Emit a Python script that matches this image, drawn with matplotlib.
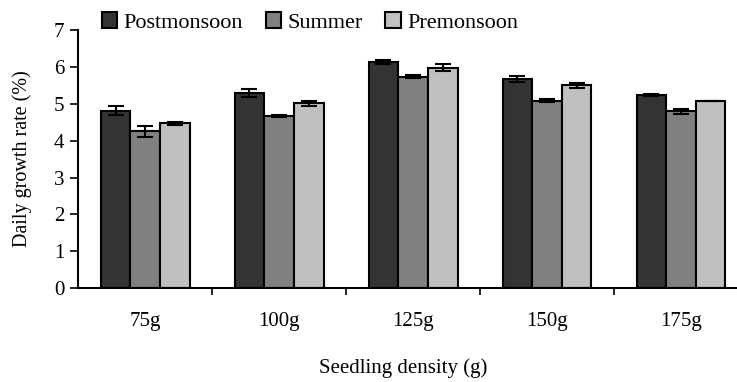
import numpy as np
import matplotlib
matplotlib.use('Agg')
import matplotlib.pyplot as plt

plt.rcParams['font.family'] = ['Liberation Serif', 'DejaVu Serif']

# data
densities = ['75g', '100g', '125g', '150g', '175g']
seasons = ['Postmonsoon', 'Summer', 'Premonsoon']
postmonsoon = [4.81, 5.29, 6.14, 5.67, 5.24]
summer = [4.25, 4.67, 5.74, 5.08, 4.80]
premonsoon = [4.47, 5.02, 5.98, 5.50, 5.07]
err_post = [0.12, 0.10, 0.06, 0.08, 0.04]
err_sum = [0.15, 0.04, 0.05, 0.04, 0.07]
err_pre = [0.05, 0.07, 0.10, 0.06, 0.0]

colors = ['#333333', '#808080', '#c0c0c0']

fig = plt.figure(figsize=(7.37, 3.82), dpi=100)
ax = fig.add_axes([0.106, 0.246, 0.909, 0.675])

x = np.arange(len(densities))
w = 0.221
series = [postmonsoon, summer, premonsoon]
errs = [err_post, err_sum, err_pre]
for i, (vals, e) in enumerate(zip(series, errs)):
    ax.bar(x + (i - 1) * w, vals, w, color=colors[i], edgecolor='black',
           linewidth=1.5, label=seasons[i], zorder=2)
    ax.errorbar(x + (i - 1) * w, vals, yerr=e, fmt='none', ecolor='black',
                elinewidth=1.5, capsize=6, capthick=1.5, zorder=3)

ax.set_xlim(-0.5, 4.5)
ax.set_ylim(0, 7)
ax.set_yticks(range(8))
ax.set_xticks(x)
ax.set_xticklabels(densities)
ax.set_xticks(np.arange(0.5, 4.5, 1), minor=True)
ax.tick_params(axis='x', which='major', length=0, pad=17, labelsize=15)
ax.tick_params(axis='x', which='minor', length=5, width=1.2, direction='out')
ax.tick_params(axis='y', length=6, width=1.2, labelsize=15, pad=4)
for s in ['top', 'right']:
    ax.spines[s].set_visible(False)
for s in ['left', 'bottom']:
    ax.spines[s].set_linewidth(1.5)

ax.set_xlabel('Seedling density (g)', fontsize=15)
ax.xaxis.set_label_coords(0.485, -0.312)
ax.xaxis.label.set_va('center')
ax.set_ylabel('Daily growth rate (%)', fontsize=14.5)
ax.yaxis.set_label_coords(-0.083, 0.5)
ax.yaxis.label.set_va('center')

ax.legend(loc='lower left', bbox_to_anchor=(0.035, 0.99), ncol=3, frameon=False,
          fontsize=16, handlelength=0.7, handleheight=0.75, handletextpad=0.3,
          columnspacing=1.0, borderaxespad=0, borderpad=0)

fig.savefig('out.png', dpi=100)
